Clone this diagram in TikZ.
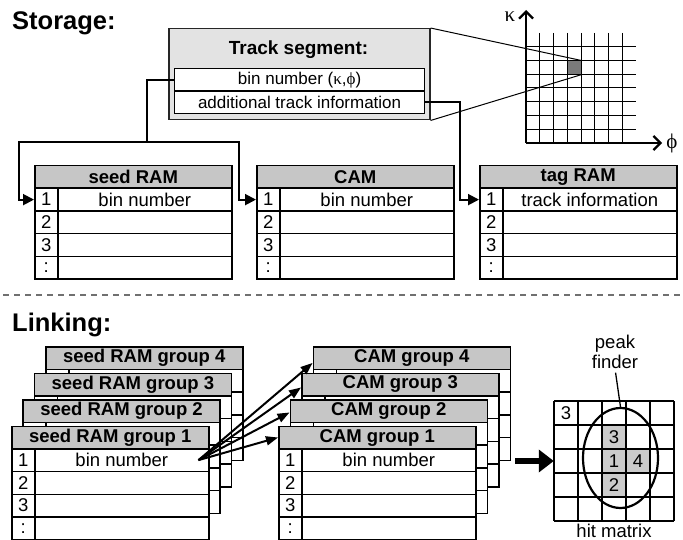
\documentclass[tikz,border=0pt]{standalone}
\usepackage{fontspec}
\setmainfont{Liberation Sans}
\newfontfamily\grk{Liberation Serif}
\usetikzlibrary{arrows.meta,calc,shapes.geometric}
\definecolor{hdrgray}{HTML}{C6C6C6}
\definecolor{tsgray}{HTML}{E3E3E3}
\definecolor{cellgray}{HTML}{CBCBCB}
\definecolor{darkcell}{HTML}{7A7A7A}
\definecolor{dashgray}{HTML}{707070}
\newcommand\fs[1]{\fontsize{#1}{#1}\selectfont}
\tikzset{
 bx/.style={draw, line width=1.5pt, inner sep=0pt, anchor=north west},
 hdr/.style={bx, fill=hdrgray, minimum width=197pt, minimum height=22.5pt},
 numcell/.style={bx, fill=white, minimum width=23pt, minimum height=22.75pt, font=\fs{18.5}},
 txtcell/.style={bx, fill=white, minimum width=174pt, minimum height=22.75pt, font=\fs{18.5}},
 tsrow/.style={bx, line width=1.2pt, fill=white, minimum width=250pt, minimum height=22.5pt, font=\fs{17}},
 conn/.style={line width=2pt, -{Triangle[length=11pt,width=11pt]}},
 link/.style={line width=2pt, -{Triangle[length=12pt,width=9pt]}},
 axis/.style={line width=2.3pt, -{Straight Barb[length=7pt,width=14pt]}},
 gridline/.style={line width=1pt},
 title/.style={font=\fs{25.5}\bfseries, anchor=base west, inner sep=0pt},
 plain/.style={font=\fs{18.5}, inner sep=0pt},
}
% front table with row numbers
\newcommand\ramtable[5]{%
 \begin{scope}[shift={#2}]
  \node[hdr,font={#3}] (#1-h) at (0,0) {#4};
  \node[numcell] (#1-n1) at (0,22.5) {1};
  \node[txtcell] (#1-r1) at (23,22.5) {#5};
  \node[numcell] (#1-n2) at (0,45.25) {2};
  \node[txtcell] (#1-r2) at (23,45.25) {};
  \node[numcell] (#1-n3) at (0,68) {3};
  \node[txtcell] (#1-r3) at (23,68) {};
  \node[numcell] (#1-n4) at (0,90.75) {:};
  \node[txtcell] (#1-r4) at (23,90.75) {};
 \end{scope}}
% back table whose rows are hidden behind the front ones
\newcommand\backtable[4]{%
 \begin{scope}[shift={#2}]
  \node[hdr,font={#3}] (#1-h) at (0,0) {#4};
  \node[numcell] (#1-n1) at (0,22.5) {};
  \node[txtcell] (#1-r1) at (23,22.5) {};
  \node[numcell] (#1-n2) at (0,45.25) {};
  \node[txtcell] (#1-r2) at (23,45.25) {};
  \node[numcell] (#1-n3) at (0,68) {};
  \node[txtcell] (#1-r3) at (23,68) {};
  \node[numcell] (#1-n4) at (0,90.75) {};
  \node[txtcell] (#1-r4) at (23,90.75) {};
 \end{scope}}
\begin{document}
\begin{tikzpicture}[x=1pt,y=-1pt]
\useasboundingbox (0,0) rectangle (683,540);
\fill[white] (0,0) rectangle (683,540);

% ---------- Storage ----------
\node[title] (stt) at (12,30) {Storage:};

\node[bx, draw=black!85, fill=tsgray, minimum width=261pt, minimum height=91pt] (ts) at (168,28) {};
\node[font=\fs{19}\bfseries, anchor=base, inner sep=0pt] (tst) at (298.5,55) {Track segment:};
\node[tsrow] (tsr1) at (174,68) {bin number ({\grk κ},{\grk ϕ})};
\node[tsrow] (tsr2) at (174,90.5) {additional track information};

\ramtable{seed}{(34,165)}{\fs{18.5}\bfseries}{seed RAM}{bin number}
\ramtable{cam}{(256,165)}{\fs{18.5}\bfseries}{CAM}{bin number}
\ramtable{tag}{(479,165)}{\fs{18.5}\bfseries}{tag RAM}{track information}

\coordinate (j) at (146.5,142.5);
\draw[line width=2pt] (tsr1.west) -| (j);
\draw[conn] (j) -| ($(seed-n1.west)+(-15.5,0)$) -- (seed-n1.west);
\draw[conn] (j) -| ($(cam-n1.west)+(-17.5,0)$) -- (cam-n1.west);
\draw[conn] (tsr2.east) -| ($(tag-n1.west)+(-19.5,0)$) -- (tag-n1.west);

% kappa-phi grid
\node[fill=darkcell, minimum width=13.75pt, minimum height=13.75pt, inner sep=0pt, anchor=north west] (cell) at (567.25,60.5) {};
\foreach \k in {1,...,7} {
 \draw[gridline] (526+13.75*\k,33) -- (526+13.75*\k,143);
 \draw[gridline] (526,143-13.75*\k) -- (636,143-13.75*\k);
}
\coordinate (org) at (526,143);
\coordinate (ktop) at (526,10);
\coordinate (pend) at (662,143);
\draw[axis] (org) -- (ktop);
\draw[axis] (org) -- (pend);
\node[font=\fs{21}\grk, inner sep=0pt] (kl) at (510,17) {κ};
\node[font=\fs{21}\grk, inner sep=0pt] (pl) at (672,143) {ϕ};
\draw[line width=1pt] (ts.north east) -- (cell.north east);
\draw[line width=1pt] (ts.south east) -- (cell.south east);

% separator
\coordinate (d1) at (3,295);
\coordinate (d2) at (681,295);
\draw[dashgray, line width=2pt, dash pattern=on 6pt off 5pt] (d1) -- (d2);

% ---------- Linking ----------
\node[title] (lkt) at (12,331) {Linking:};

\backtable{s4}{(45,346)}{\fs{18.5}\bfseries}{seed RAM group 4}
\backtable{s3}{(33.6,372.5)}{\fs{18.5}\bfseries}{seed RAM group 3}
\backtable{s2}{(22.3,399)}{\fs{18.5}\bfseries}{seed RAM group 2}
\ramtable{s1}{(11,425.5)}{\fs{18.5}\bfseries}{seed RAM group 1}{bin number}

\backtable{c4}{(312.5,346)}{\fs{18.5}\bfseries}{CAM group 4}
\backtable{c3}{(301,372.5)}{\fs{18.5}\bfseries}{CAM group 3}
\backtable{c2}{(289.5,399)}{\fs{18.5}\bfseries}{CAM group 2}
\ramtable{c1}{(278,425.5)}{\fs{18.5}\bfseries}{CAM group 1}{bin number}

\coordinate (src) at ($(s1-r1.east)+(-11,0)$);
\draw[link] (src) -- ($(c4-h.west)+(0,5)$);
\draw[link] (src) -- ($(c3-h.west)+(0,3)$);
\draw[link] (src) -- ($(c2-h.west)+(0,1.5)$);
\draw[link] (src) -- (c1-h.west);

% hit matrix
\node[minimum width=120pt, minimum height=120pt, inner sep=0pt] (hm) at (614,461) {};
\fill[cellgray] (602,425) rectangle (626,497);
\fill[cellgray] (626,449) rectangle (650,473);
\foreach \k in {0,...,5} {
 \draw[line width=1.4pt] (554+24*\k,401) -- (554+24*\k,521);
 \draw[line width=1.4pt] (554,401+24*\k) -- (674,401+24*\k);
}
\node[plain] (h00) at (566,413) {3};
\node[plain] (h21) at (614,437) {3};
\node[plain] (h22) at (614,461) {1};
\node[plain] (h32) at (638,461) {4};
\node[plain] (h23) at (614,485) {2};
\node[draw, ellipse, line width=2.2pt, minimum width=75pt, minimum height=100pt, inner sep=0pt] (pf) at (620.5,458) {};
\node[font=\fontsize{18.5}{19.5}\selectfont, align=center, inner sep=0pt] (pfl) at (615,352) {peak\\finder};
\draw[line width=1.3pt, shorten <=4pt] (pfl.south) -- (pf.north);
\node[plain, anchor=base] (hml) at (614,537) {hit matrix};
\coordinate (bigA) at (515,461);
\draw[line width=6pt, -{Triangle[length=15pt,width=22pt]}] (bigA) -- (hm.west);
\end{tikzpicture}
\end{document}
